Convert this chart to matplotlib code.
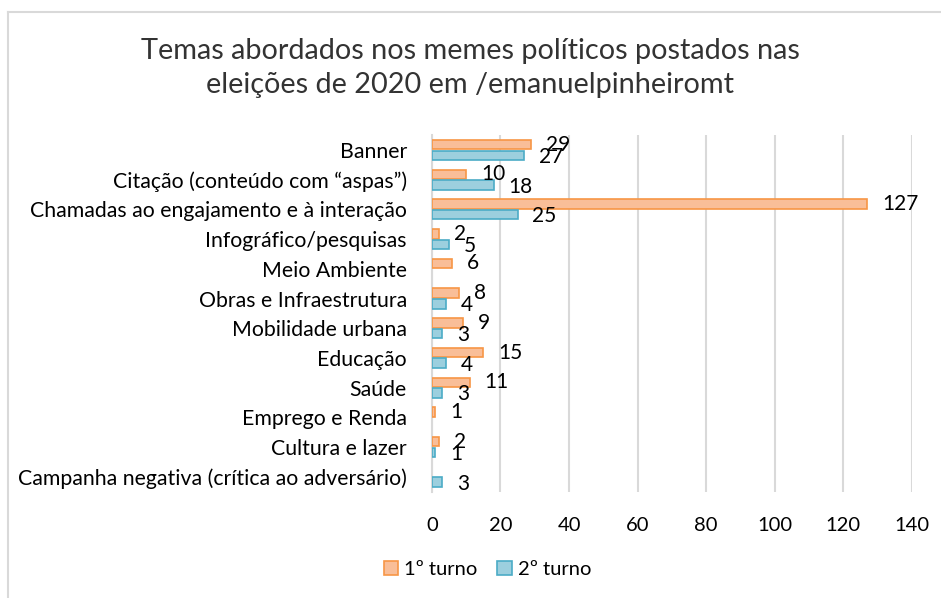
import numpy as np
import matplotlib

matplotlib.use("Agg")
import matplotlib.pyplot as plt
from matplotlib.lines import Line2D

plt.rcParams["font.family"] = ["Lato", "DejaVu Sans"]

categories = [
    "Banner",
    "Citação (conteúdo com \u201caspas\u201d)",
    "Chamadas ao engajamento e à interação",
    "Infográfico/pesquisas",
    "Meio Ambiente",
    "Obras e Infraestrutura",
    "Mobilidade urbana",
    "Educação",
    "Saúde",
    "Emprego e Renda",
    "Cultura e lazer",
    "Campanha negativa (crítica ao adversário)",
]
turno1 = [29, 10, 127, 2, 6, 8, 9, 15, 11, 1, 2, 0]
turno2 = [27, 18, 25, 5, 0, 4, 3, 4, 3, 0, 1, 3]
series_names = ["1º turno", "2º turno"]

fig = plt.figure(figsize=(9.41, 5.98), dpi=100)
ax = fig.add_axes([0.459, 0.178, 0.510, 0.596])

y = np.arange(len(categories))
h = 0.32
off = 0.18
t1 = np.array(turno1)
t2 = np.array(turno2)
m1 = t1 > 0
m2 = t2 > 0
ax.barh(y[m1] - off, t1[m1], height=h, color="#F9BE98", edgecolor="#F79646", linewidth=1.2, zorder=3)
ax.barh(y[m2] + off, t2[m2], height=h, color="#9CCFDE", edgecolor="#4BACC6", linewidth=1.2, zorder=3)

for yi, v in zip(y[m1], t1[m1]):
    ax.text(v + 4.3, yi - off, str(v), va="center", ha="left", fontsize=15, zorder=4)
for yi, v in zip(y[m2], t2[m2]):
    ax.text(v + 4.3, yi + off + 0.05, str(v), va="center", ha="left", fontsize=15, zorder=4)

ax.set_xlim(0, 140)
ax.set_xticks(range(0, 141, 20))
ax.set_ylim(len(categories) - 0.5, -0.5)
ax.set_yticks(y)
ax.set_yticklabels(categories, fontsize=15.3)
ax.tick_params(axis="both", length=0)
ax.tick_params(axis="x", labelsize=14.5, pad=18)
ax.tick_params(axis="y", pad=18)
ax.grid(axis="x", color="#D9D9D9", linewidth=1.5, zorder=0)
for s in ["top", "right", "bottom"]:
    ax.spines[s].set_visible(False)
ax.spines["left"].set_color("#D9D9D9")
ax.spines["left"].set_linewidth(1.5)

fig.text(0.50, 0.886, "Temas abordados nos memes políticos postados nas\neleições de 2020 em /emanuelpinheiromt",
         ha="center", va="center", fontsize=20.8, color="#333333", linespacing=1.35)

handles = [
    plt.Rectangle((0, 0), 1, 1, facecolor="#F9BE98", edgecolor="#F79646", linewidth=1.2),
    plt.Rectangle((0, 0), 1, 1, facecolor="#9CCFDE", edgecolor="#4BACC6", linewidth=1.2),
]
fig.legend(handles, series_names, loc="center", bbox_to_anchor=(0.518, 0.047), ncol=2,
           frameon=False, fontsize=14.5, handlelength=0.7, handleheight=0.7,
           handletextpad=0.3, columnspacing=1.0)

# chart frame (only left and top edges visible)
fig.add_artist(Line2D([0.009, 0.009], [0.0, 0.98], transform=fig.transFigure, color="#D9D9D9", linewidth=1.5))
fig.add_artist(Line2D([0.009, 1.0], [0.98, 0.98], transform=fig.transFigure, color="#D9D9D9", linewidth=1.5))

fig.savefig("out.png", dpi=100, facecolor="white")
